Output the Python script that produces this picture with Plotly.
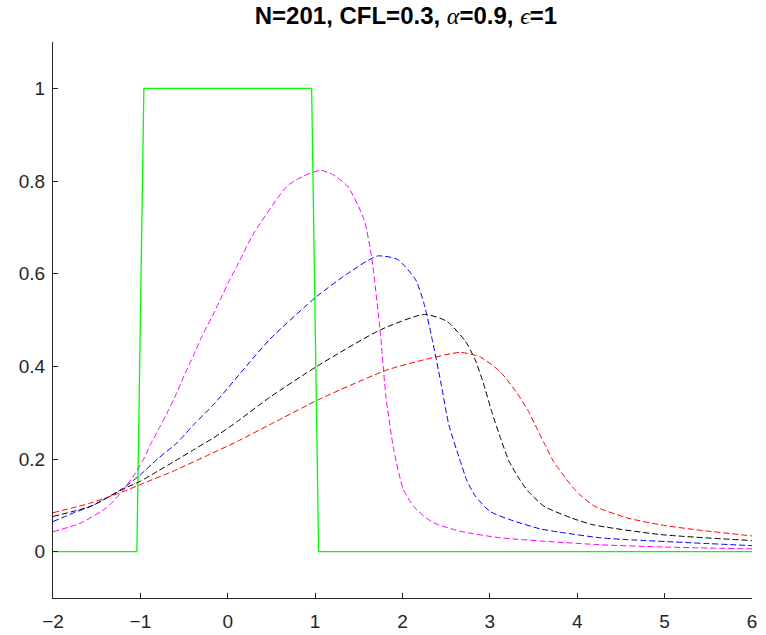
import plotly.graph_objects as go

# ---- data ----
green_x = [-2.0, -1.04, -0.96, 0.96, 1.04, 6.0]
green_y = [0.0, 0.0, 1.0, 1.0, 0.0, 0.0]

magenta_x = [-2.0, -1.68, -1.38, -1.2, -1.07, -0.97, -0.88, -0.78, -0.68, -0.58, -0.49, -0.39,
             -0.30, -0.18, -0.08, 0.01, 0.11, 0.30, 0.68, 0.86, 1.06, 1.20, 1.37, 1.56, 1.65,
             1.75, 1.81, 1.90, 2.01, 2.13, 2.25, 2.36, 2.66, 3.12, 4.26, 5.0, 6.0]
magenta_y = [0.043, 0.062, 0.096, 0.132, 0.166, 0.197, 0.233, 0.268, 0.305, 0.344, 0.384, 0.424,
             0.463, 0.507, 0.546, 0.582, 0.618, 0.688, 0.789, 0.810, 0.823, 0.814, 0.789, 0.717, 0.631,
             0.465, 0.335, 0.220, 0.134, 0.097, 0.076, 0.062, 0.044, 0.030, 0.015, 0.010, 0.006]

blue_x = [-2.0, -1.76, -1.53, -1.19, -1.0, -0.81, -0.58, -0.39, -0.16, 0.48, 1.02, 1.37, 1.71,
          1.94, 2.15, 2.25, 2.34, 2.44, 2.53, 2.65, 2.74, 2.83, 3.0, 3.23, 3.58, 3.8, 4.26, 4.57, 6.0]
blue_y = [0.065, 0.084, 0.101, 0.138, 0.166, 0.199, 0.235, 0.274, 0.318, 0.458, 0.551, 0.600, 0.638,
          0.631, 0.587, 0.533, 0.458, 0.364, 0.274, 0.202, 0.152, 0.121, 0.087, 0.069, 0.049, 0.042, 0.030, 0.026, 0.013]

black_x = [-2.0, -1.57, -1.19, -1.0, -0.81, -0.61, -0.39, -0.16, 0.11, 0.48, 1.02, 1.75, 2.25,
           2.51, 2.72, 2.83, 2.93, 3.02, 3.12, 3.22, 3.33, 3.43, 3.62, 3.93, 4.18, 4.95, 6.0]
black_y = [0.076, 0.098, 0.136, 0.152, 0.173, 0.195, 0.220, 0.246, 0.281, 0.333, 0.400, 0.479, 0.512,
           0.497, 0.454, 0.415, 0.361, 0.303, 0.246, 0.195, 0.159, 0.132, 0.098, 0.073, 0.058, 0.037, 0.024]

red_x = [-2.0, -1.57, -1.19, -0.96, -0.61, -0.23, 0.11, 0.5, 1.06, 1.82, 2.2, 2.66, 2.89, 3.12,
         3.30, 3.43, 3.54, 3.64, 3.73, 3.85, 3.94, 4.03, 4.20, 4.57, 4.95, 5.33, 6.0]
red_y = [0.084, 0.105, 0.130, 0.148, 0.175, 0.208, 0.238, 0.276, 0.330, 0.392, 0.412, 0.430, 0.420, 0.388,
         0.345, 0.307, 0.265, 0.227, 0.194, 0.163, 0.141, 0.123, 0.098, 0.073, 0.058, 0.048, 0.034]

x_ticks = [-2, -1, 0, 1, 2, 3, 4, 5, 6]
y_ticks = [0, 0.2, 0.4, 0.6, 0.8, 1]
y_tick_text = ["0", "0.2", "0.4", "0.6", "0.8", "1"]

title_text = ('N=201, CFL=0.3, <span style="font-family:\'Liberation Serif\';font-weight:normal">'
              '<i>α</i></span>=0.9, <span style="font-family:\'Liberation Serif\';font-weight:normal">'
              '<i>ϵ</i></span>=1')

fig = go.Figure()

fig.add_trace(go.Scatter(x=green_x, y=green_y, mode="lines",
                         line=dict(color="#00ff00", width=1.3), showlegend=False))

series = [
    (magenta_x, magenta_y, "#ff00ff"),
    (blue_x, blue_y, "#0000ff"),
    (black_x, black_y, "#000000"),
    (red_x, red_y, "#ff0000"),
]
for xs, ys, c in series:
    fig.add_trace(go.Scatter(x=xs, y=ys, mode="lines",
                             line=dict(color=c, width=1, dash="6px,3px", shape="spline", smoothing=0.6),
                             showlegend=False))

axis_col = "#262626"
tick_font = dict(family="Liberation Sans, Arial, sans-serif", size=19, color=axis_col)
fig.update_layout(
    width=766, height=635,
    margin=dict(l=53, r=14, t=42, b=37),
    paper_bgcolor="white", plot_bgcolor="white",
    title=dict(text=title_text, x=0.53, xanchor="center", y=0.976, yanchor="middle",
               font=dict(family="Liberation Sans, Arial, sans-serif", size=24,
                         color="#000000", weight="bold")),
    font=tick_font,
)
fig.update_xaxes(range=[-2, 6], tickvals=x_ticks, ticks="inside", ticklen=5, tickcolor=axis_col,
                 showline=True, linecolor=axis_col, linewidth=1, showgrid=False, zeroline=False,
                 mirror=False, tickfont=tick_font, ticklabelstandoff=6, automargin=False)
fig.update_yaxes(range=[-0.1, 1.1], tickvals=y_ticks, ticktext=y_tick_text, ticks="inside", ticklen=5,
                 tickcolor=axis_col, showline=True, linecolor=axis_col, linewidth=1, showgrid=False,
                 zeroline=False, mirror=False, tickfont=tick_font, ticklabelstandoff=3, automargin=False)

fig.write_html("out.html")
